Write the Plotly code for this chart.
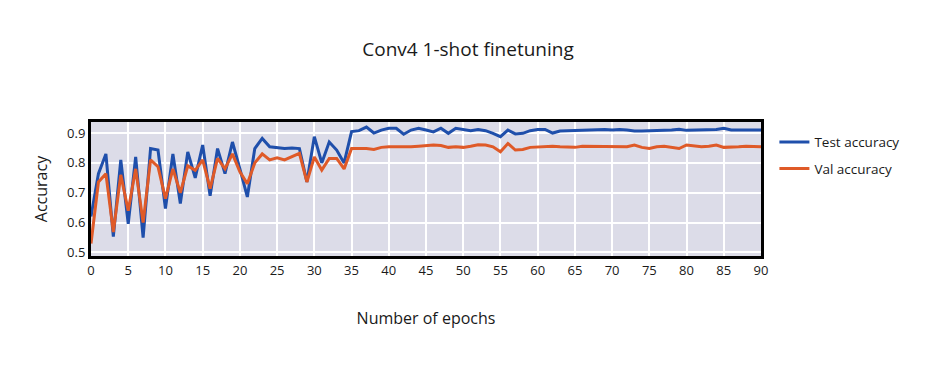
import plotly.graph_objects as go

epochs = list(range(91))

test_acc = [
    0.62, 0.764, 0.83, 0.553, 0.81, 0.596, 0.82, 0.55, 0.848, 0.843,
    0.647, 0.83, 0.664, 0.837, 0.75, 0.86, 0.69, 0.848, 0.764, 0.87,
    0.78, 0.686, 0.848, 0.882, 0.854, 0.852, 0.848, 0.85, 0.848, 0.736,
    0.888, 0.80, 0.87, 0.843, 0.80, 0.905, 0.908, 0.92, 0.90, 0.91,
    0.916, 0.916, 0.896, 0.91, 0.916, 0.91, 0.904, 0.916, 0.899, 0.916,
    0.912, 0.908, 0.912, 0.908, 0.899, 0.888, 0.91, 0.897, 0.899, 0.908,
    0.912, 0.912, 0.90, 0.907, 0.908, 0.909, 0.909, 0.909, 0.91, 0.912,
    0.91, 0.912, 0.91, 0.907, 0.907, 0.907, 0.909, 0.909, 0.91, 0.913,
    0.909, 0.91, 0.91, 0.91, 0.912, 0.916, 0.91, 0.91, 0.91, 0.91,
    0.91,
]

val_acc = [
    0.53, 0.736, 0.764, 0.568, 0.76, 0.64, 0.78, 0.60, 0.81, 0.787,
    0.68, 0.78, 0.70, 0.79, 0.775, 0.81, 0.714, 0.815, 0.78, 0.83,
    0.77, 0.73, 0.80, 0.83, 0.81, 0.817, 0.81, 0.82, 0.832, 0.736,
    0.82, 0.776, 0.815, 0.815, 0.78, 0.848, 0.848, 0.848, 0.845, 0.852,
    0.854, 0.854, 0.852, 0.854, 0.856, 0.858, 0.86, 0.858, 0.852, 0.854,
    0.852, 0.856, 0.861, 0.86, 0.854, 0.837, 0.865, 0.843, 0.845, 0.852,
    0.854, 0.856, 0.856, 0.854, 0.852, 0.852, 0.856, 0.856, 0.856, 0.856,
    0.856, 0.854, 0.854, 0.86, 0.852, 0.848, 0.854, 0.856, 0.852, 0.848,
    0.86, 0.857, 0.854, 0.856, 0.86, 0.852, 0.852, 0.854, 0.856, 0.854,
    0.854,
]

x_ticks = list(range(0, 91, 5))
y_ticks = [0.5, 0.6, 0.7, 0.8, 0.9]

fig = go.Figure()
fig.add_trace(go.Scatter(x=epochs, y=test_acc, mode="lines", name="Test accuracy",
                         legendgroup="test",
                         line=dict(color="#1f4fab", width=3)))
fig.add_trace(go.Scatter(x=epochs, y=val_acc, mode="lines", name="Val accuracy",
                         legendgroup="val",
                         line=dict(color="#df5a28", width=3)))

font_family = "Open Sans, Noto Sans, DejaVu Sans, sans-serif"

fig.update_layout(
    width=935, height=374,
    margin=dict(l=83, r=182, t=114, b=126),
    paper_bgcolor="white",
    plot_bgcolor="#dcdce8",
    font=dict(family=font_family, color="#1a1a1a", size=13),
    title=dict(text="Conv4 1-shot finetuning", x=0.492, xanchor="center",
               y=0.89, yanchor="middle", font=dict(size=19, color="#1a1a1a")),
    showlegend=True,
    legend=dict(x=1.02, y=0.965, xanchor="left", yanchor="top",
                tracegroupgap=6,
                font=dict(size=13.5, color="#1a1a1a"), bgcolor="rgba(0,0,0,0)"),
    xaxis=dict(
        range=[0, 90], tickmode="array", tickvals=x_ticks,
        showgrid=True, gridcolor="white", gridwidth=2,
        showline=True, linecolor="black", linewidth=3, mirror=True,
        zeroline=False, ticks="", tickfont=dict(size=13),
        title=dict(text="Number of epochs", font=dict(size=16), standoff=36),
    ),
    yaxis=dict(
        range=[0.488, 0.937], tickmode="array", tickvals=y_ticks,
        showgrid=True, gridcolor="white", gridwidth=2,
        showline=True, linecolor="black", linewidth=3, mirror=True,
        zeroline=False, ticks="", tickfont=dict(size=13),
        title=dict(text="Accuracy", font=dict(size=16), standoff=16),
    ),
)

fig.write_html("out.html")
